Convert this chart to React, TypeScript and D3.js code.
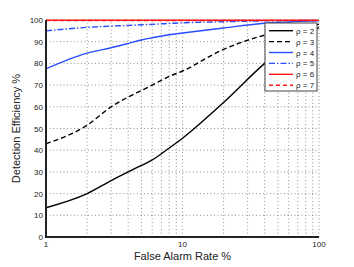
import React from "react";
import * as d3 from "d3";

const falseAlarm = [1, 2, 3, 4, 5, 6, 8, 10, 20, 40, 60, 100];
const rho2 = [13.5, 20, 26, 30, 33, 35.5, 41, 45.5, 62, 80, 89, 96.5];
const rho3 = [43, 51.5, 60, 64.5, 67.5, 70, 74, 76.5, 86.5, 93, 95.5, 98];
const rho4 = [77.5, 84.7, 87.2, 89.2, 90.8, 91.8, 93.2, 94, 96.3, 98.5, 99.1, 99.6];
const rho5 = [95, 96.6, 97.2, 97.5, 97.8, 98, 98.4, 98.7, 99.2, 99.6, 99.7, 99.8];
const rho6 = [99.9, 99.9, 99.9, 99.9, 99.9, 99.9, 99.9, 99.9, 99.9, 99.9, 99.9, 99.9];
const rho7 = [99.8, 99.8, 99.8, 99.8, 99.8, 99.8, 99.8, 99.8, 99.8, 99.8, 99.8, 99.8];

const seriesNames = ["ρ = 2", "ρ = 3", "ρ = 4", "ρ = 5", "ρ = 6", "ρ = 7"];
const seriesData = [rho2, rho3, rho4, rho5, rho6, rho7];
const seriesColor = ["#000000", "#000000", "#2a4dff", "#2a4dff", "#ff1a1a", "#ff1a1a"];
const seriesDash = ["", "5,3", "", "6,2,1.5,2", "", "4,3"];

const yTicks = d3.range(0, 101, 10);
const xTickLabels = [1, 10, 100];
const xGrid = [2, 3, 4, 5, 6, 7, 8, 9, 10, 20, 30, 40, 50, 60, 70, 80, 90, 100];

export default function App() {
  const W = 354, H = 267;
  const m = { left: 46, right: 35, top: 20, bottom: 30 };
  const x = d3.scaleLog().domain([1, 100]).range([m.left, W - m.right]);
  const y = d3.scaleLinear().domain([0, 100]).range([H - m.bottom, m.top]);
  const line = d3.line<number>().x((_, i) => x(falseAlarm[i])).y(d => y(d)).curve(d3.curveMonotoneX);
  const font = "'Liberation Sans', Arial, sans-serif";
  const lg = { x: 265, y: 23, w: 52, h: 68 };

  return (
    <svg width={W} height={H} style={{ position: "absolute", left: 0, top: 0, background: "#fff" }} fontFamily={font}>
      {/* grid */}
      {yTicks.slice(1).map(t => (
        <line key={"gy" + t} x1={x(1)} x2={x(100)} y1={y(t)} y2={y(t)} stroke="#777" strokeWidth={0.8} strokeDasharray="1,2.5" />
      ))}
      {xGrid.map(t => (
        <line key={"gx" + t} x1={x(t)} x2={x(t)} y1={y(0)} y2={y(100)} stroke="#777" strokeWidth={0.8} strokeDasharray="1,2.5" />
      ))}
      {/* series */}
      {seriesData.map((s, i) => (
        <path key={i} d={line(s) || ""} fill="none" stroke={seriesColor[i]} strokeWidth={1.4} strokeDasharray={seriesDash[i]} />
      ))}
      {/* axes */}
      <line x1={x(1)} x2={x(100)} y1={y(0)} y2={y(0)} stroke="#222" strokeWidth={2} />
      <line x1={x(1)} x2={x(1)} y1={y(0) + 1} y2={y(100)} stroke="#222" strokeWidth={2} />
      {yTicks.map(t => (
        <text key={"yl" + t} x={x(1) - 3} y={y(t) + 3} fontSize={8} textAnchor="end" fill="#222">{t}</text>
      ))}
      {xTickLabels.map(t => (
        <text key={"xl" + t} x={x(t)} y={y(0) + 10} fontSize={8} textAnchor="middle" fill="#222">{t}</text>
      ))}
      <text x={(x(1) + x(100)) / 2} y={H - 7} fontSize={11} textAnchor="middle" fill="#222">False Alarm Rate %</text>
      <text transform={`translate(20,${(y(0) + y(100)) / 2}) rotate(-90)`} fontSize={11} textAnchor="middle" fill="#222">Detection Efficiency %</text>
      {/* legend */}
      <rect x={lg.x} y={lg.y} width={lg.w} height={lg.h} fill="#fff" stroke="#444" strokeWidth={1} />
      {seriesNames.map((n, i) => {
        const ly = lg.y + 7.7 + i * 10.9;
        return (
          <g key={n}>
            <line x1={lg.x + 4} x2={lg.x + 28} y1={ly} y2={ly} stroke={seriesColor[i]} strokeWidth={1.4} strokeDasharray={seriesDash[i]} />
            <text x={lg.x + 31} y={ly + 3} fontSize={8} fill="#222">{n}</text>
          </g>
        );
      })}
    </svg>
  );
}
